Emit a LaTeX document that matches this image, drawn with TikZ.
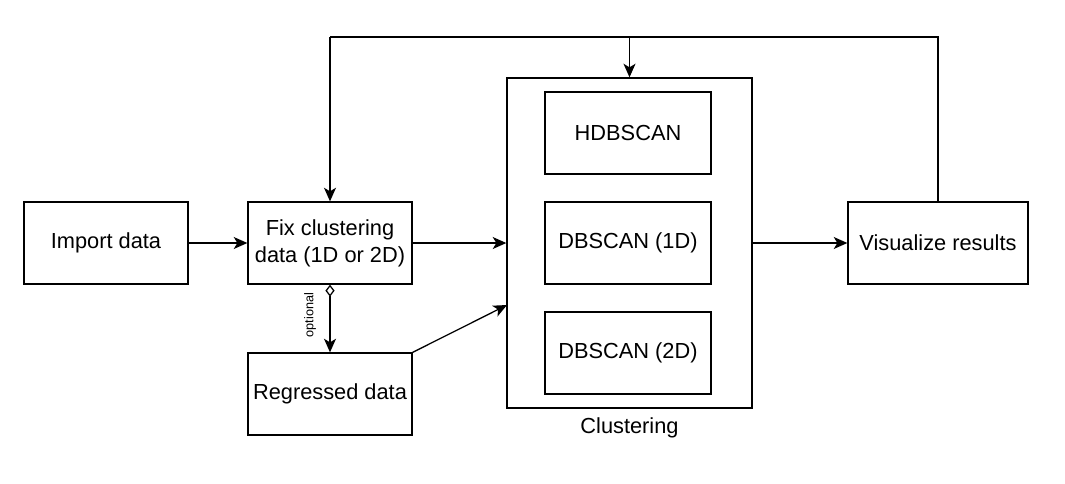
\documentclass[tikz,border=0pt]{standalone}
\usepackage{fontspec}
\setmainfont{Liberation Sans}
\usetikzlibrary{arrows.meta}
\tikzstyle{block}=[draw=black, line width=.9pt, fill=white, minimum width=4.1cm, minimum height=2.05cm, align=center, inner sep=2pt, font=\fontsize{15.5}{19}\selectfont]
\tikzstyle{inner}=[block, minimum width=4.15cm]
\tikzstyle{wide}=[block, minimum width=4.5cm]
\tikzstyle{group}=[draw=black, line width=.9pt, minimum width=6.125cm, minimum height=8.25cm, inner sep=0pt]
\tikzstyle{tag}=[font=\fontsize{15.5}{19}\selectfont, inner sep=1pt]
\tikzstyle{small}=[font=\fontsize{9}{11}\selectfont, inner sep=1pt]
\tikzstyle{arrow}=[draw, line width=.9pt, -{Stealth[length=3.4mm, width=3mm, inset=.9mm]}, black]
\tikzstyle{line}=[draw, line width=.9pt, -, black]
\tikzstyle{maybe}=[arrow, {Diamond[open, length=3mm, width=2.3mm]}-{Stealth[length=3.4mm, width=3mm, inset=.9mm]}]

\begin{document}
\begin{tikzpicture}[x=.025cm, y=-.025cm]
	\useasboundingbox (0,0) rectangle (1065,483);

	\node[block] (imp) at (106,243) {Import data};
	\node[block] (fix) at (330,243) {Fix clustering\\data (1D or 2D)};
	\node[block] (reg) at (330,394) {Regressed data};

	\node[group] (clu) at (629.5,243) {};
	\node[tag] (clu_label) at (629.5,428) {Clustering};
	\node[inner] (hdb) at (628,133) {HDBSCAN};
	\node[inner] (db_1) at (628,243) {DBSCAN (1D)};
	\node[inner] (db_2) at (628,353) {DBSCAN (2D)};

	\node[wide] (vis) at (938,243) {Visualize results};

	% feedback loop over the top
	\coordinate (top_l) at (330,37);
	\coordinate (top_m) at (629.5,37);
	\coordinate (top_r) at (938,37);
	\coordinate (clu_in) at (507,305);

	\draw[arrow] (imp) -- (fix);
	\draw[arrow] (fix) -- (clu);
	\draw[arrow] (clu) -- (vis);
	\draw[arrow] (reg.north east) -- (clu_in);
	\draw[maybe] (fix.south) -- (reg.north);
	\node[small, rotate=90] (opt) at (310,315) {optional};

	\draw[line] (vis.north) -- (top_r) -- (top_l);
	\draw[arrow] (top_l) -- (fix.north);
	\draw[arrow] (top_m) -- (clu.north);
\end{tikzpicture}
\end{document}
